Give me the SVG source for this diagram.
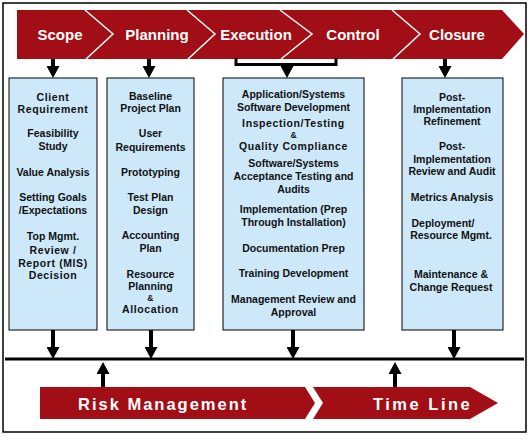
<svg xmlns="http://www.w3.org/2000/svg" width="530" height="441" viewBox="0 0 530 441">
<defs>
<marker id="ah" viewBox="0 0 12 13" refX="1" refY="6.5" markerWidth="12" markerHeight="13" markerUnits="userSpaceOnUse" orient="auto">
<path d="M0,0 L12,6.5 L0,13 z" fill="#000"/>
</marker>
</defs>
<style>
.band{fill:#A20E16}
.sep{fill:none;stroke:#fff;stroke-width:1.5}
.ph{font-family:"Liberation Sans",Arial,sans-serif;font-weight:bold;font-size:15px;fill:#fff;text-anchor:middle}
.bt{font-family:"Liberation Sans",Arial,sans-serif;font-weight:bold;font-size:16.5px;fill:#fff}
.box{fill:#CDE8F9;stroke:#000;stroke-width:1}
.t{font-family:"Liberation Sans",Arial,sans-serif;font-weight:bold;font-size:10.5px;fill:#111;text-anchor:middle}
.sp{letter-spacing:0.6px}
.sm{font-size:8.5px}
.ar{stroke:#000;stroke-width:4;fill:none;marker-end:url(#ah)}
.ln{stroke:#000;stroke-width:3;fill:none}
</style>
<rect x="0" y="0" width="530" height="441" fill="#fff"/>
<rect x="3" y="3" width="523" height="429" fill="none" stroke="#000" stroke-width="1.5"/>

<g id="phases">
<polygon class="band" points="17,10 502,10 524,34 502,59 17,59"/>
<polyline class="sep" points="85,10 113,34 86,59"/>
<polyline class="sep" points="187,10 215,34 188,59"/>
<polyline class="sep" points="280,10 312,34 281,59"/>
<polyline class="sep" points="392,10 420,34 393,59"/>
<text class="ph" x="60" y="40">Scope</text>
<text class="ph" x="157" y="40">Planning</text>
<text class="ph" x="256" y="40">Execution</text>
<text class="ph" x="353" y="40">Control</text>
<text class="ph" x="457" y="40">Closure</text>
</g>

<g id="box-scope">
<rect class="box" x="9" y="78" width="88" height="252"/>
<text class="t sp" x="53" y="101">Client</text>
<text class="t sp" x="53" y="113">Requirement</text>
<text class="t" x="53" y="137">Feasibility</text>
<text class="t" x="53" y="150">Study</text>
<text class="t" x="53" y="176">Value Analysis</text>
<text class="t" x="53" y="201">Setting Goals</text>
<text class="t" x="53" y="214">/Expectations</text>
<text class="t" x="53" y="240">Top Mgmt.</text>
<text class="t sp" x="53" y="254">Review /</text>
<text class="t sp" x="53" y="267">Report (MIS)</text>
<text class="t sp" x="53" y="279">Decision</text>
</g>

<g id="box-planning">
<rect class="box" x="107" y="78" width="87" height="252"/>
<text class="t" x="150.5" y="100">Baseline</text>
<text class="t" x="150.5" y="112">Project Plan</text>
<text class="t" x="150.5" y="137">User</text>
<text class="t" x="150.5" y="151">Requirements</text>
<text class="t" x="150.5" y="176">Prototyping</text>
<text class="t" x="150.5" y="201">Test Plan</text>
<text class="t" x="150.5" y="214">Design</text>
<text class="t" x="150.5" y="239">Accounting</text>
<text class="t" x="150.5" y="252">Plan</text>
<text class="t" x="150.5" y="278">Resource</text>
<text class="t" x="150.5" y="290">Planning</text>
<text class="t sp sm" x="150.5" y="301">&amp;</text>
<text class="t sp" x="150.5" y="313">Allocation</text>
</g>

<g id="box-execution">
<rect class="box" x="223" y="78" width="141" height="252"/>
<text class="t" x="293.5" y="98">Application/Systems</text>
<text class="t" x="293.5" y="111">Software Development</text>
<text class="t sp" x="293.5" y="127">Inspection/Testing</text>
<text class="t sm" x="293.5" y="138">&amp;</text>
<text class="t sp" x="293.5" y="149.5">Quality Compliance</text>
<text class="t" x="293.5" y="167">Software/Systems</text>
<text class="t" x="293.5" y="180">Acceptance Testing and</text>
<text class="t" x="293.5" y="193">Audits</text>
<text class="t" x="293.5" y="213">Implementation (Prep</text>
<text class="t" x="293.5" y="226">Through Installation)</text>
<text class="t" x="293.5" y="252">Documentation Prep</text>
<text class="t" x="293.5" y="277">Training Development</text>
<text class="t" x="293.5" y="303">Management Review and</text>
<text class="t" x="293.5" y="316">Approval</text>
</g>

<g id="box-closure">
<rect class="box" x="402" y="78" width="101" height="252"/>
<text class="t" x="452" y="101">Post-</text>
<text class="t" x="452" y="113">Implementation</text>
<text class="t" x="452" y="125">Refinement</text>
<text class="t" x="452" y="150">Post-</text>
<text class="t" x="452" y="163">Implementation</text>
<text class="t" x="452" y="175">Review and Audit</text>
<text class="t" x="452" y="201">Metrics Analysis</text>
<text class="t" x="443" y="227">Deployment/</text>
<text class="t" x="451" y="239">Resource Mgmt.</text>
<text class="t" x="451" y="278">Maintenance &amp;</text>
<text class="t" x="451" y="291">Change Request</text>
</g>

<g id="risk-management">
<polygon class="band" points="40,387 305,387 315,403 305,419 40,419"/>
<text class="bt" x="78" y="410" letter-spacing="2">Risk Management</text>
</g>

<g id="time-line">
<polygon class="band" points="313,387 470,387 498,403 470,419 313,419 323,403"/>
<text class="bt" x="373" y="410" letter-spacing="2.5">Time Line</text>
</g>

<g id="connectors">
<line class="ar" x1="53" y1="59" x2="53" y2="67"/>
<line class="ar" x1="149" y1="59" x2="149" y2="67"/>
<polyline class="ln" points="236,58 236,64.5 336,64.5 336,58"/>
<line class="ar" x1="287" y1="64" x2="287" y2="67"/>
<line class="ar" x1="445" y1="59" x2="445" y2="67"/>
<line class="ar" x1="53" y1="330" x2="53" y2="348"/>
<line class="ar" x1="151" y1="330" x2="151" y2="348"/>
<line class="ar" x1="293" y1="330" x2="293" y2="348"/>
<line class="ar" x1="454" y1="330" x2="454" y2="348"/>
<line class="ln" x1="5" y1="359" x2="524" y2="359"/>
<line class="ar" x1="103" y1="387" x2="103" y2="373"/>
<line class="ar" x1="395" y1="387" x2="395" y2="373"/>
</g>
</svg>
